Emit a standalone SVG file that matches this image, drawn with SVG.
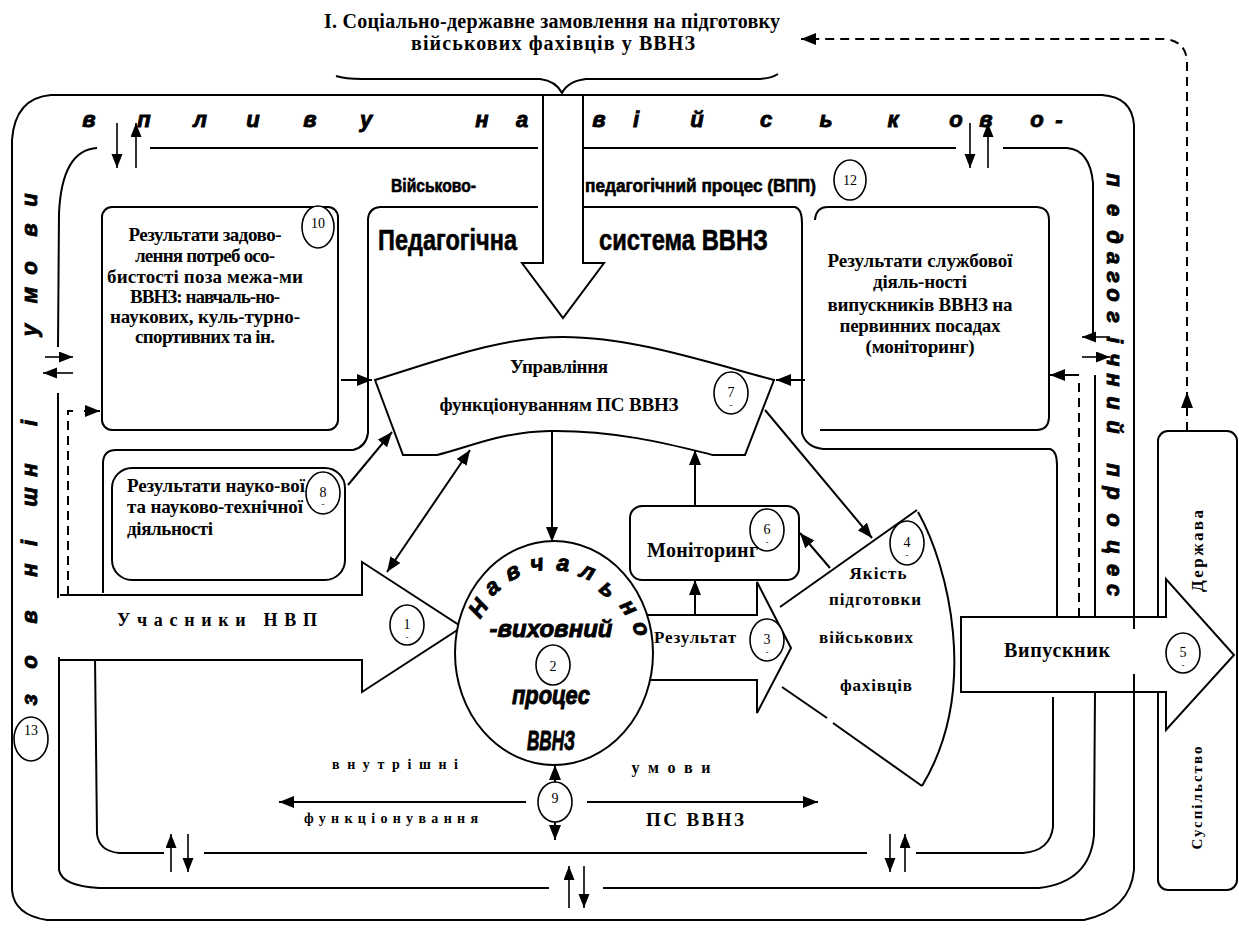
<svg xmlns="http://www.w3.org/2000/svg" width="1239" height="932" viewBox="0 0 1239 932">
<defs>
<style>
.ln{fill:none;stroke:#000;stroke-width:2}
.th{fill:none;stroke:#000;stroke-width:1.6}
.ds{fill:none;stroke:#000;stroke-width:2;stroke-dasharray:9 6}
.wf{fill:#fff;stroke:#000;stroke-width:2}
.ci{fill:#fff;stroke:#000;stroke-width:1.6}
.num{font-family:"Liberation Serif","Times New Roman",serif;font-size:14px;text-anchor:middle}
.dsh{font-family:"Liberation Serif","Times New Roman",serif;font-size:9px;text-anchor:middle}
.b{font-family:"Liberation Serif","Times New Roman",serif;font-weight:bold;text-anchor:middle}
.bs{font-family:"Liberation Serif","Times New Roman",serif;font-weight:bold}
.it{font-family:"Liberation Sans",Arial,sans-serif;font-weight:bold;font-style:italic;text-anchor:middle;stroke:#000;stroke-width:0.9}
.cn{font-family:"Liberation Sans",Arial,sans-serif;font-weight:bold;stroke:#000;stroke-width:0.6}
</style>
<marker id="ah" markerUnits="userSpaceOnUse" markerWidth="16" markerHeight="12" refX="15" refY="6" orient="auto-start-reverse"><path d="M0,0 L15,6 L0,12 Z" fill="#000"/></marker>
<marker id="as" markerUnits="userSpaceOnUse" markerWidth="15" markerHeight="12" refX="14" refY="5.5" orient="auto-start-reverse"><path d="M0,0 L14,5.5 L0,11 Z" fill="#000"/></marker>
</defs>
<rect width="1239" height="932" fill="#fff"/>

<g id="title">
<text class="b" x="552" y="28" font-size="20" textLength="456">І. Соціально-державне замовлення на підготовку</text>
<text class="b" x="553" y="50" font-size="20" textLength="284">військових фахівців у ВВНЗ</text>
<path class="ln" d="M336,76 Q345,79 362,79 L540,79 Q556,81 562,93 Q568,81 586,79 L760,79 Q772,78 778,74"/>
</g>

<g id="node-derzhava">
<rect class="ln" x="1158" y="431" width="79" height="459" rx="10"/>
<text class="b" font-size="17" transform="translate(1203,551) rotate(-90)" x="0" y="0" textLength="82">Держава</text>
<text class="b" font-size="15" transform="translate(1202,798) rotate(-90)" x="0" y="0" textLength="103">Суспільство</text>
</g>

<g id="node5-vypusknyk">
<path class="wf" d="M961,617 L1166,617 L1166,579 L1234,655 L1166,730 L1166,692 L961,692 Z"/>
<text class="b" x="1057" y="657" font-size="20" textLength="106">Випускник</text>
<ellipse class="ci" cx="1183" cy="653" rx="17" ry="20"/>
<text class="num" x="1183" y="657">5</text><text class="dsh" x="1183" y="668">-</text>
</g>

<g id="node13-outer">
<path class="ln" d="M51,95 L1102,95 Q1132,97 1134,125 L1134,629 M1134,674 L1134,870 Q1130,910 1084,920 L47,920 Q14,915 12,890 L12,140 Q15,98 51,95"/>
<text class="it" font-size="22" y="127" x="89 144 200 253 310 366 420 482 522 560 599 636 697 766 826 893 956 986 1037 1059">впливу на військово-</text>
<text class="it" font-size="22" transform="translate(1107,0) rotate(90)" y="0" x="180 210 237 258 277 295 317 340 360 380 403 427 450 470 493 520 547 570 590">педагогічний процес</text>
<text class="it" font-size="22" transform="translate(37,0) rotate(-90)" y="0" x="-700 -662 -617 -570 -543 -497 -470 -423 -380 -330 -295 -268 -230 -200">зовнішні умови</text>
<ellipse class="ci" cx="31" cy="739" rx="17" ry="22"/>
<text class="num" x="31" y="735" font-size="12">13</text>
</g>

<g id="node12-vpp">
<path class="ln" d="M97,148 Q62,150 59,213 L58,347 M58,393 L58,598 M59,657 L59,870 Q62,886 99,888 L549,888 M603,888 L1039,888 Q1090,882 1094,835 L1095,692 M1095,617 L1095,375 M1093,337 L1093,183 Q1090,150 1067,148 L1003,148 M956,148 L584,148 M538,148 L150,148"/>
<text class="cn" x="391" y="192" font-size="18" textLength="85" lengthAdjust="spacingAndGlyphs">Військово-</text>
<text class="cn" x="585" y="192" font-size="18" textLength="231" lengthAdjust="spacingAndGlyphs">педагогічний процес (ВПП)</text>
<ellipse class="ci" cx="850" cy="180" rx="16" ry="20"/>
<text class="num" x="850" y="185" font-size="15">12</text>
</g>

<g id="node-ped-system">
<path class="ln" d="M380,207 L538,207 M584,207 L795,207 Q802,209 802,223 L802,433 Q806,447 823,449 L1050,449 Q1057,451 1057,465 L1057,617 M1053,697 L1053,827 Q1050,851 1023,853 L916,853 M867,853 L204,853 M164,853 L119,853 Q99,851 97,834 L95,657 M103,593 L103,462 Q104,450 116,450 L353,450 Q366,447 368,433 L368,219 Q369,208 380,207"/>
<text class="cn" x="378" y="250" font-size="30" textLength="139" lengthAdjust="spacingAndGlyphs">Педагогічна</text>
<text class="cn" x="599" y="250" font-size="30" textLength="169" lengthAdjust="spacingAndGlyphs">система  ВВНЗ</text>
<text class="b" x="395" y="769" font-size="14" textLength="126">внутрішні</text>
<text class="b" x="391" y="823" font-size="14" textLength="174">функціонування</text>
<text class="b" x="671" y="773" font-size="16" textLength="79">умови</text>
<text class="b" x="695" y="826" font-size="19" textLength="98">ПС  ВВНЗ</text>
</g>

<g id="node-shaft">
<path class="wf" d="M543,95 L543,263 L522,263 L563,318 L604,263 L583,263 L583,95 Z"/>
</g>

<g id="node10">
<rect class="ln" x="102" y="207" width="236" height="223" rx="10"/>
<text class="b" font-size="19" x="205" y="241" textLength="153">Результати задово-</text>
<text class="b" font-size="19" x="205" y="262" textLength="140">лення потреб осо-</text>
<text class="b" font-size="19" x="205" y="283" textLength="196">бистості поза межа-ми</text>
<text class="b" font-size="19" x="205" y="303" textLength="150">ВВНЗ: навчаль-но-</text>
<text class="b" font-size="19" x="205" y="323" textLength="190">наукових, куль-турно-</text>
<text class="b" font-size="19" x="205" y="343" textLength="140">спортивних та ін.</text>
<ellipse class="ci" cx="318" cy="227" rx="16" ry="21"/>
<text class="num" x="318" y="228" font-size="11">10</text>
</g>

<g id="node11-service">
<path class="ln" d="M815,220 Q816,207 828,207 L1037,207 Q1049,208 1049,220 L1049,418 Q1048,430 1037,430 L820,430"/>
<text class="b" font-size="19" x="920" y="267" textLength="185">Результати службової</text>
<text class="b" font-size="19" x="920" y="288" textLength="94">діяль-ності</text>
<text class="b" font-size="19" x="920" y="311" textLength="185">випускників ВВНЗ на</text>
<text class="b" font-size="19" x="920" y="332" textLength="161">первинних посадах</text>
<text class="b" font-size="19" x="920" y="353" textLength="109">(моніторинг)</text>
</g>

<g id="node8">
<rect class="ln" x="112" y="468" width="233" height="112" rx="20"/>
<text class="bs" font-size="19" x="127" y="492" textLength="178">Результати науко-вої</text>
<text class="bs" font-size="19" x="127" y="513" textLength="176">та науково-технічної</text>
<text class="bs" font-size="19" x="127" y="535" textLength="86">діяльності</text>
<ellipse class="ci" cx="323" cy="493" rx="17" ry="21"/>
<text class="num" x="323" y="497">8</text><text class="dsh" x="323" y="507">-</text>
</g>

<g id="node7-management">
<path class="wf" d="M375,380 C440,360 500,337 563,337 C630,337 700,360 774,380 L745,455 L713,455 C680,447 620,430 550,431 C500,432 470,447 437,455 L403,455 Z"/>
<text class="b" font-size="19" x="559" y="373" textLength="98">Управління</text>
<text class="b" font-size="19" x="559" y="411" textLength="239">функціонуванням ПС ВВНЗ</text>
<ellipse class="ci" cx="731" cy="393" rx="17" ry="21"/>
<text class="num" x="731" y="397">7</text><text class="dsh" x="731" y="408">-</text>
</g>

<g id="node1-uchasnyky">
<path class="wf" d="M60,595 L362,595 L362,562 L462,627 L362,692 L362,660 L60,660"/>
<text class="b" font-size="18" x="217" y="626" textLength="200">Учасники  НВП</text>
<ellipse class="ci" cx="407" cy="625" rx="17" ry="20"/>
<text class="num" x="407" y="629">1</text><text class="dsh" x="407" y="640">-</text>
</g>

<g id="node3-result">
<path class="wf" d="M640,615 L757,615 L757,582 L791,648 L757,713 L757,680 L640,680 Z"/>
<text class="b" font-size="17" x="695" y="643" textLength="82">Результат</text>
<ellipse class="ci" cx="767" cy="640" rx="17" ry="21"/>
<text class="num" x="767" y="644">3</text><text class="dsh" x="767" y="655">-</text>
</g>

<g id="node2-process">
<ellipse class="wf" cx="554" cy="653" rx="99" ry="112"/>
<text class="it" font-size="23" transform="translate(478,608) rotate(-55.6)" y="8">Н</text>
<text class="it" font-size="23" transform="translate(493,588) rotate(-40.3)" y="6">а</text>
<text class="it" font-size="23" transform="translate(513,573) rotate(-25.2)" y="6">в</text>
<text class="it" font-size="23" transform="translate(537,565) rotate(-10.1)" y="6">ч</text>
<text class="it" font-size="23" transform="translate(563,565) rotate(5.4)" y="6">а</text>
<text class="it" font-size="23" transform="translate(587,573) rotate(20.8)" y="6">л</text>
<text class="it" font-size="23" transform="translate(607,590) rotate(37.1)" y="6">ь</text>
<text class="it" font-size="23" transform="translate(628,608) rotate(55.6)" y="6">н</text>
<text class="it" font-size="23" transform="translate(640,629) rotate(71.4)" y="6">о</text>
<text class="it" font-size="24" x="551" y="637" textLength="123" lengthAdjust="spacingAndGlyphs">-виховний</text>
<ellipse class="ci" cx="553" cy="665" rx="17" ry="20"/>
<text class="num" x="553" y="671" font-size="17">2</text>
<text class="it" font-size="25" x="551" y="704" textLength="78" lengthAdjust="spacingAndGlyphs">процес</text>
<text class="it" font-size="27" x="551" y="750" textLength="48" lengthAdjust="spacingAndGlyphs">ВВНЗ</text>
</g>

<g id="node6-monitoring">
<rect class="ln" x="630" y="506" width="169" height="74" rx="12"/>
<text class="bs" font-size="20" x="647" y="557" textLength="111">Моніторинг</text>
<ellipse class="ci" cx="767" cy="530" rx="17" ry="21"/>
<text class="num" x="767" y="534">6</text><text class="dsh" x="767" y="545">-</text>
</g>

<g id="node4-quality">
<path class="ln" d="M782,687 L827,718 M833,723 L922,786 M780,607 L917,510 M918,512 C948,565 980,690 922,786"/>
<text class="b" font-size="17" x="878" y="579" textLength="57">Якість</text>
<text class="b" font-size="17" x="875" y="605" textLength="92">підготовки</text>
<text class="b" font-size="17" x="866" y="643" textLength="94">військових</text>
<text class="b" font-size="17" x="876" y="691" textLength="72">фахівців</text>
<ellipse class="ci" cx="907" cy="543" rx="17" ry="22"/>
<text class="num" x="907" y="547">4</text><text class="dsh" x="907" y="558">-</text>
</g>

<g id="node9">
<ellipse class="ci" cx="555" cy="802" rx="17" ry="20"/>
<text class="num" x="555" y="803" font-size="12">9</text>
</g>

<g id="connectors">
<line class="ln" x1="341" y1="380" x2="372" y2="380" marker-end="url(#ah)"/>
<line class="ln" x1="805" y1="380" x2="776" y2="380" marker-end="url(#ah)"/>
<line class="ln" x1="348" y1="485" x2="392" y2="432" marker-end="url(#ah)"/>
<line class="ln" x1="470" y1="450" x2="387" y2="572" marker-start="url(#ah)" marker-end="url(#ah)"/>
<line class="ln" x1="552" y1="432" x2="552" y2="542" marker-end="url(#ah)"/>
<line class="ln" x1="695" y1="506" x2="695" y2="450" marker-end="url(#ah)"/>
<line class="ln" x1="765" y1="410" x2="872" y2="538" marker-end="url(#ah)"/>
<line class="ln" x1="830" y1="568" x2="800" y2="533" marker-end="url(#ah)"/>
<line class="ln" x1="695" y1="615" x2="695" y2="580" marker-end="url(#ah)"/>
<line class="ln" x1="555" y1="782" x2="555" y2="765" marker-end="url(#ah)"/>
<line class="ln" x1="555" y1="822" x2="555" y2="840" marker-end="url(#ah)"/>
<line class="ln" x1="526" y1="802" x2="279" y2="802" marker-end="url(#ah)"/>
<line class="ln" x1="587" y1="802" x2="818" y2="802" marker-end="url(#ah)"/>
<path class="ds" d="M1187,431 L1187,62 Q1186,40 1163,39 L801,39" marker-end="url(#ah)"/>
<path d="M1187,392 L1181,408 L1193,408 Z" fill="#000"/>
<path class="ds" d="M68,595 L68,411 L78,411"/>
<line class="ln" x1="84" y1="411" x2="100" y2="411" marker-end="url(#ah)"/>
<path class="ds" d="M1079,617 L1079,378"/>
<line class="ln" x1="1079" y1="375" x2="1050" y2="375" marker-end="url(#ah)"/>
<line class="th" x1="117" y1="123" x2="117" y2="168" marker-end="url(#as)"/>
<line class="th" x1="136" y1="168" x2="136" y2="123" marker-end="url(#as)"/>
<line class="th" x1="970" y1="123" x2="970" y2="168" marker-end="url(#as)"/>
<line class="th" x1="988" y1="168" x2="988" y2="123" marker-end="url(#as)"/>
<line class="th" x1="45" y1="357" x2="73" y2="357" marker-end="url(#as)"/>
<line class="th" x1="73" y1="373" x2="43" y2="373" marker-end="url(#as)"/>
<line class="th" x1="1110" y1="337" x2="1082" y2="337" marker-end="url(#as)"/>
<line class="th" x1="1082" y1="357" x2="1110" y2="357" marker-end="url(#as)"/>
<line class="th" x1="171" y1="872" x2="171" y2="834" marker-end="url(#as)"/>
<line class="th" x1="188" y1="834" x2="188" y2="872" marker-end="url(#as)"/>
<line class="th" x1="890" y1="834" x2="890" y2="872" marker-end="url(#as)"/>
<line class="th" x1="905" y1="872" x2="905" y2="834" marker-end="url(#as)"/>
<line class="th" x1="569" y1="908" x2="569" y2="866" marker-end="url(#as)"/>
<line class="th" x1="584" y1="866" x2="584" y2="908" marker-end="url(#as)"/>
</g>
</svg>
